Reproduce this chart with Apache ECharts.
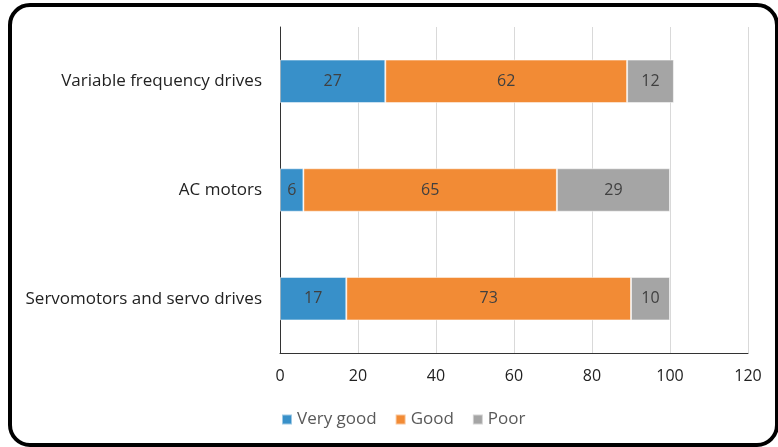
<!DOCTYPE html>
<html>
<head>
<meta charset="utf-8">
<script src="https://cdn.jsdelivr.net/npm/echarts@6/dist/echarts.min.js"></script>
<style>
  html, body { margin: 0; padding: 0; background: #fff; }
  #chart { width: 778px; height: 447px; }
</style>
</head>
<body>
<div id="chart"></div>
<script>
// Ratings by product category (bottom to top on the axis)
const categories = ['Servomotors and servo drives', 'AC motors', 'Variable frequency drives'];
const veryGood = [17, 6, 27];
const good = [73, 65, 62];
const poor = [10, 29, 12];
const xTicks = { min: 0, max: 120, interval: 20 };

const FONT = '"Open Sans", Lato, sans-serif';
const labelStyle = {
  show: true,
  position: 'inside',
  color: '#404040',
  fontSize: 16,
  fontFamily: FONT
};

function makeSeries(name, data, color) {
  return {
    name: name,
    type: 'bar',
    stack: 'total',
    data: data,
    barCategoryGap: '60%',
    itemStyle: { color: color, borderColor: 'rgba(255,255,255,0.5)', borderWidth: 1 },
    label: labelStyle,
    emphasis: { disabled: true }
  };
}

const chart = echarts.init(document.getElementById('chart'), null, { renderer: 'canvas' });
chart.setOption({
  animation: false,
  backgroundColor: '#fff',
  graphic: [{
    type: 'rect',
    shape: { x: 10, y: 5, width: 767, height: 440, r: 20 },
    style: { fill: 'none', stroke: '#000', lineWidth: 4 },
    silent: true,
    z: 100
  }],
  grid: { left: 280, right: 30, top: 27, bottom: 94, containLabel: false },
  legend: {
    left: 276,
    top: 406,
    itemWidth: 10,
    itemHeight: 10,
    itemGap: 18,
    icon: 'rect',
    textStyle: { color: '#595959', fontSize: 17, fontFamily: FONT },
    data: ['Very good', 'Good', 'Poor']
  },
  xAxis: {
    type: 'value',
    min: xTicks.min,
    max: xTicks.max,
    interval: xTicks.interval,
    axisLine: { show: true, lineStyle: { color: '#333', width: 1 } },
    axisTick: { show: false },
    splitLine: { show: true, lineStyle: { color: '#d9d9d9', width: 1 } },
    axisLabel: { color: '#222', fontSize: 16, fontFamily: FONT, margin: 15 }
  },
  yAxis: {
    type: 'category',
    data: categories,
    axisLine: { show: true, lineStyle: { color: '#333', width: 1 } },
    axisTick: { show: false },
    axisLabel: { color: '#222', fontSize: 17, fontFamily: FONT, margin: 18 }
  },
  series: [
    makeSeries('Very good', veryGood, '#3890C9'),
    makeSeries('Good', good, '#F28B35'),
    makeSeries('Poor', poor, '#A5A5A5')
  ]
});
</script>
</body>
</html>
